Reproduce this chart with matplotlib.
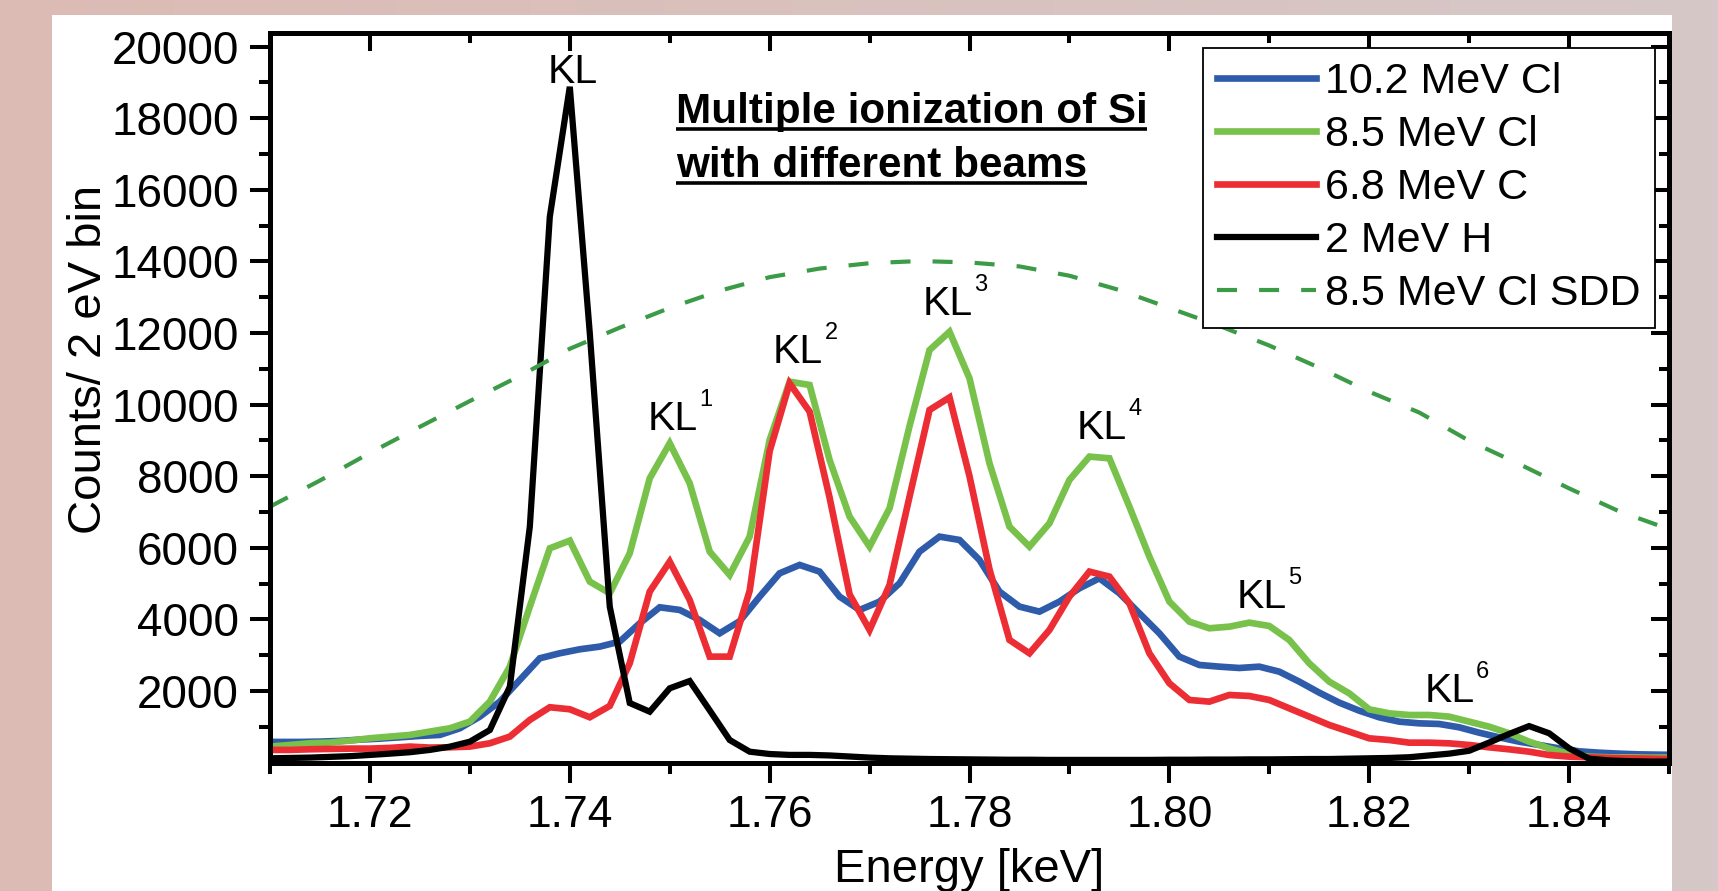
import numpy as np
import matplotlib
matplotlib.use('Agg')
import matplotlib.pyplot as plt
from matplotlib.ticker import FixedLocator
from matplotlib.lines import Line2D
from matplotlib.patches import Rectangle

plt.rcParams['font.family'] = ['Liberation Sans', 'DejaVu Sans']

# ---------------- data ----------------
# 2 eV bins (keV)
energy = np.round(np.arange(1.710, 1.8501, 0.002), 3)        # 71 bins
energy_blue = np.round(np.arange(1.709, 1.8511, 0.002), 3)   # 72 bins (offset grid)

blue_10_2_Cl = [580, 577, 577, 586, 605, 642, 670, 707, 745, 773,
                959, 1285, 1704, 2309, 2914, 3054, 3165, 3240, 3380, 3892,
                4338, 4264, 3985, 3612, 3950, 4636, 5288, 5521, 5335, 4636,
                4264, 4497, 5009, 5893, 6312, 6219, 5660, 4776, 4357, 4217,
                4497, 4869, 5148, 4730, 4171, 3612, 2960, 2727, 2680, 2643,
                2680, 2540, 2261, 1954, 1675, 1451, 1265, 1144, 1097, 1079,
                986, 836, 706, 585, 492, 398, 315, 277, 250, 230,
                221, 215]

green_8_5_Cl = [447, 493, 540, 559, 614, 680, 726, 773, 866, 959,
                1145, 1704, 2681, 4357, 5986, 6200, 5055, 4729, 5847, 7941,
                8919, 7802, 5893, 5241, 6312, 9012, 10640, 10548, 8453, 6871,
                6033, 7103, 9400, 11523, 12035, 10734, 8360, 6591, 6033, 6685,
                7895, 8547, 8500, 7150, 5754, 4497, 3938, 3752, 3797, 3909,
                3816, 3425, 2773, 2261, 1935, 1488, 1376, 1330, 1330, 1284,
                1144, 1004, 818, 585, 398, 240, 166, 147, 147, 140,
                140]

red_6_8_C = [354, 354, 372, 382, 391, 391, 410, 447, 419, 428,
             447, 540, 726, 1192, 1546, 1490, 1266, 1583, 2775, 4776,
             5614, 4543, 2960, 2960, 4800, 8700, 10593, 9803, 7400, 4700,
             3705, 4962, 7430, 9850, 10200, 8000, 5400, 3426, 3054, 3705,
             4636, 5335, 5195, 4450, 3054, 2216, 1750, 1703, 1889, 1861,
             1749, 1516, 1284, 1051, 865, 678, 631, 557, 557, 538,
             492, 427, 371, 305, 212, 166, 147, 128, 119, 110,
             100]

black_2_H = [120, 130, 140, 160, 180, 214, 250, 290, 354, 445,
             584, 910, 2120, 6589, 15247, 18878, 12000, 4355, 1664, 1422,
             2075, 2279, 1460, 631, 305, 240, 215, 215, 200, 170,
             140, 120, 110, 100, 95, 90, 85, 80, 80, 75,
             75, 75, 75, 75, 75, 80, 80, 85, 85, 90,
             90, 95, 100, 100, 110, 120, 130, 150, 200, 250,
             330, 560, 800, 1020, 820, 400, 110, 60, 40, 30,
             30]

energy_sdd = [1.710, 1.715, 1.720, 1.725, 1.730, 1.735, 1.740, 1.745, 1.750, 1.755,
              1.760, 1.765, 1.770, 1.775, 1.780, 1.785, 1.790, 1.795, 1.800, 1.805,
              1.810, 1.815, 1.820, 1.825, 1.830, 1.835, 1.840, 1.845, 1.850]
sdd_8_5_Cl = [7150, 7880, 8650, 9380, 10100, 10800, 11560, 12150, 12700, 13180,
              13560, 13800, 13950, 14010, 13970, 13860, 13600, 13200, 12700, 12200,
              11650, 11030, 10360, 9780, 8990, 8340, 7660, 7020, 6520]

series_labels = ['10.2 MeV Cl', '8.5 MeV Cl', '6.8 MeV C', '2 MeV H', '8.5 MeV Cl SDD']

x_ticks = [1.72, 1.74, 1.76, 1.78, 1.80, 1.82, 1.84]
x_ticklabels = ['1.72', '1.74', '1.76', '1.78', '1.80', '1.82', '1.84']
x_minor = [1.71, 1.73, 1.75, 1.77, 1.79, 1.81, 1.83, 1.85]
y_ticks = [2000, 4000, 6000, 8000, 10000, 12000, 14000, 16000, 18000, 20000]
y_minor = [1000, 3000, 5000, 7000, 9000, 11000, 13000, 15000, 17000, 19000]

peak_x = [1.7378, 1.7478, 1.7603, 1.7753, 1.7907, 1.8067, 1.8255]
peak_y = [18981, 9290, 11170, 12501, 9030, 4310, 1701]
peak_sup = ['', '1', '2', '3', '4', '5', '6']

title_lines = ['Multiple ionization of Si', 'with different beams']

# ---------------- figure ----------------
W, H = 1718, 891
fig = plt.figure(figsize=(W / 100, H / 100), dpi=100)

bg = fig.add_axes([0, 0, 1, 1], zorder=-10)
bg.axis('off')
c_left = np.array([220, 187, 180]) / 255.0
c_right = np.array([214, 200, 200]) / 255.0
t = np.linspace(0, 1, 256)[None, :, None]
grad = c_left[None, None, :] * (1 - t) + c_right[None, None, :] * t
bg.imshow(grad, aspect='auto', extent=[0, 1, 0, 1])
bg.set_xlim(0, 1)
bg.set_ylim(0, 1)
bg.add_patch(Rectangle((51.5 / W, 0), (1672 - 51.5) / W, (H - 15) / H,
                       facecolor='white', edgecolor='none'))

ax_left, ax_right, ax_top, ax_bot = 270, 1669, 33, 762.6
ax = fig.add_axes([ax_left / W, (H - ax_bot) / H, (ax_right - ax_left) / W, (ax_bot - ax_top) / H])
ax.set_xlim(1.71, 1.85)
ax.set_ylim(0, 20380)
ax.patch.set_alpha(0)

lw = 4.8
ax.plot(energy_blue, blue_10_2_Cl, color='#2e5caa', lw=lw, label=series_labels[0], solid_joinstyle='miter')
ax.plot(energy, green_8_5_Cl, color='#78c14b', lw=lw, label=series_labels[1], solid_joinstyle='miter')
ax.plot(energy, red_6_8_C, color='#ec2d34', lw=lw, label=series_labels[2], solid_joinstyle='miter')
ax.plot(energy, black_2_H, color='black', lw=4.5, label=series_labels[3], solid_joinstyle='miter')
ax.plot(energy_sdd, sdd_8_5_Cl, color='#3c9b47', lw=3.0, dashes=(4.8, 5.3), label=series_labels[4])

# ticks
ax.xaxis.set_major_locator(FixedLocator(x_ticks))
ax.set_xticklabels(x_ticklabels)
ax.xaxis.set_minor_locator(FixedLocator(x_minor))
ax.yaxis.set_major_locator(FixedLocator(y_ticks))
ax.set_yticklabels([str(v) for v in y_ticks])
ax.yaxis.set_minor_locator(FixedLocator(y_minor))

ax.tick_params(axis='x', which='major', direction='out', length=14.4, width=2.9,
               labelsize=32, pad=9, top=False)
ax.tick_params(axis='x', which='minor', direction='out', length=8, width=2.9, top=False)
ax.tick_params(axis='y', which='major', direction='out', length=14.4, width=2.9,
               labelsize=33, pad=8, right=False)
ax.tick_params(axis='y', which='minor', direction='out', length=8, width=2.9, right=False)

secx = ax.secondary_xaxis('top')
secx.xaxis.set_major_locator(FixedLocator(x_ticks))
secx.xaxis.set_minor_locator(FixedLocator(x_minor))
secx.tick_params(axis='x', which='major', direction='in', length=13, width=2.9, labeltop=False)
secx.tick_params(axis='x', which='minor', direction='in', length=7, width=2.9)
secy = ax.secondary_yaxis('right')
secy.yaxis.set_major_locator(FixedLocator(y_ticks))
secy.yaxis.set_minor_locator(FixedLocator(y_minor))
secy.tick_params(axis='y', which='major', direction='in', length=13, width=2.9, labelright=False)
secy.tick_params(axis='y', which='minor', direction='in', length=7, width=2.9)

for a in (ax, secx, secy):
    for s in a.spines.values():
        s.set_linewidth(3.6)
        s.set_capstyle('projecting')

ax.set_xlabel('Energy [keV]', fontsize=34)
ax.xaxis.set_label_coords(0.5, -0.1165)
ax.set_ylabel('Counts/ 2 eV bin', fontsize=34)
ax.yaxis.set_label_coords(-0.1135, 0.5526)

leg = ax.legend(loc='upper left', bbox_to_anchor=(0.6669, 0.9794), borderaxespad=0,
                fontsize=31, handlelength=2.3, handletextpad=0.2, borderpad=0.33,
                labelspacing=0.3, frameon=True, fancybox=False, edgecolor='black',
                framealpha=1)
leg.get_frame().set_linewidth(1.3)

# peak labels
for px, py, sup in zip(peak_x, peak_y, peak_sup):
    ax.text(px, py, 'KL', fontsize=29.5, ha='left', va='baseline', zorder=6)
    if sup:
        ax.annotate(sup, xy=(px, py), xytext=(37.4, 17.3), textcoords='offset points',
                    fontsize=17, ha='left', va='baseline', zorder=6)

# underlined title
title_x = 1.7506
title_y = [17856, 16364]
title_texts = []
for line, ty in zip(title_lines, title_y):
    tt = ax.text(title_x, ty, line, fontsize=30.4, fontweight='bold', ha='left', va='baseline', zorder=6)
    title_texts.append((tt, ty))

fig.canvas.draw()
for tt, ty in title_texts:
    bb = tt.get_window_extent()
    yb = ax.transData.transform((title_x, ty))[1] - 6.0
    fig.add_artist(Line2D([bb.x0 / W, bb.x1 / W], [yb / H, yb / H], transform=fig.transFigure,
                          color='black', lw=2.6, solid_capstyle='butt'))

fig.savefig('out.png', dpi=100)
